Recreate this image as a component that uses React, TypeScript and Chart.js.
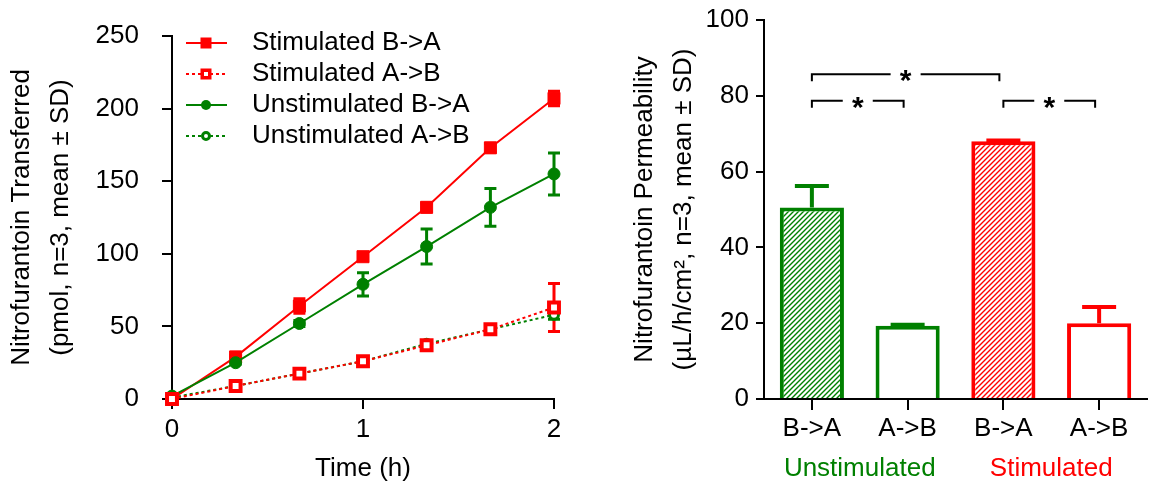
import React, { useEffect, useRef } from 'react';
import { Chart, registerables } from 'chart.js';

Chart.register(...registerables);

const FONT = '"Liberation Sans", Arial, Helvetica, sans-serif';
const RED = '#ff0000';
const GREEN = '#008000';

// ---------- Left chart data ----------
const timeHours = [0, 0.333, 0.667, 1, 1.333, 1.667, 2];
const stimBA = [0, 29, 64, 98, 132, 173, 207];
const stimBA_sd = [1, 1, 5, 1, 3, 3, 5];
const stimAB = [0, 9, 17.5, 26, 37, 48, 63];
const stimAB_sd = [1, 1, 1, 1, 1, 2, 16.5];
const unstimBA = [2, 25, 52, 79, 105, 132, 155];
const unstimBA_sd = [1, 1, 2, 8, 12, 13, 14.5];
const unstimAB = [1, 9, 17.5, 26, 38, 48, 58];
const unstimAB_sd = [1, 1, 1, 1, 1, 2, 3];
const seriesNames = ['Stimulated B->A', 'Stimulated A->B', 'Unstimulated B->A', 'Unstimulated A->B'];
const lineYTicks = [0, 50, 100, 150, 200, 250];
const lineXTicks = [0, 1, 2];

// ---------- Right chart data ----------
const barCategories = ['B->A', 'A->B', 'B->A', 'A->B'];
const barGroups = ['Unstimulated', 'Stimulated'];
const permeability = [50.5, 19.3, 68.0, 20.0];
const permeabilitySD = [5.7, 0.3, 0.2, 4.3];
const barYTicks = [0, 20, 40, 60, 80, 100];
// [from category, to category, bracket level]
const comparisons = [
  [0, 1, 78.7],
  [0, 2, 85.7],
  [2, 3, 78.7],
];

function makeHatch(color: string) {
  const c = document.createElement('canvas');
  const s = 5;
  c.width = s;
  c.height = s;
  const g = c.getContext('2d')!;
  g.fillStyle = '#ffffff';
  g.fillRect(0, 0, s, s);
  g.strokeStyle = color;
  g.lineWidth = 1.4;
  g.beginPath();
  g.moveTo(0, s);
  g.lineTo(s, 0);
  g.moveTo(-1, 1);
  g.lineTo(1, -1);
  g.moveTo(s - 1, s + 1);
  g.lineTo(s + 1, s - 1);
  g.stroke();
  return g.createPattern(c, 'repeat');
}

const lineErrorBars = {
  id: 'lineErrorBars',
  beforeDatasetsDraw(chart: any) {
    const { ctx } = chart;
    const ys = chart.scales.y;
    chart.data.datasets.forEach((ds: any, di: number) => {
      const meta = chart.getDatasetMeta(di);
      ctx.save();
      ctx.strokeStyle = ds.borderColor;
      ctx.lineWidth = 3;
      ctx.setLineDash([]);
      meta.data.forEach((pt: any, i: number) => {
        const v = ds.data[i].y;
        const sd = ds.sd[i];
        const top = ys.getPixelForValue(v + sd);
        const bot = ys.getPixelForValue(Math.max(0, v - sd));
        ctx.beginPath();
        ctx.moveTo(pt.x, top);
        ctx.lineTo(pt.x, bot);
        ctx.moveTo(pt.x - 6, top);
        ctx.lineTo(pt.x + 6, top);
        ctx.moveTo(pt.x - 6, bot);
        ctx.lineTo(pt.x + 6, bot);
        ctx.stroke();
      });
      ctx.restore();
    });
  },
};

const lineLegend = {
  id: 'lineLegend',
  afterDraw(chart: any) {
    const { ctx, chartArea } = chart;
    const x0 = chartArea.left + 14;
    const x1 = chartArea.left + 55;
    const mx = chartArea.left + 34;
    const tx = chartArea.left + 80;
    const styles = [
      { color: RED, dashed: false, shape: 'rect', filled: true },
      { color: RED, dashed: true, shape: 'rect', filled: false },
      { color: GREEN, dashed: false, shape: 'circle', filled: true },
      { color: GREEN, dashed: true, shape: 'circle', filled: false },
    ];
    ctx.save();
    seriesNames.forEach((name, i) => {
      const st = styles[i];
      const y = chartArea.top + 7 + i * 31;
      ctx.strokeStyle = st.color;
      ctx.lineWidth = 2;
      ctx.setLineDash(st.dashed ? [3, 3] : []);
      ctx.beginPath();
      ctx.moveTo(x0, y);
      ctx.lineTo(x1, y);
      ctx.stroke();
      ctx.setLineDash([]);
      if (st.shape === 'rect') {
        if (st.filled) {
          ctx.fillStyle = st.color;
          ctx.fillRect(mx - 5.5, y - 5.5, 11, 11);
        } else {
          ctx.fillStyle = '#fff';
          ctx.fillRect(mx - 4, y - 4, 8, 8);
          ctx.lineWidth = 3.5;
          ctx.strokeRect(mx - 3.75, y - 3.75, 7.5, 7.5);
        }
      } else {
        ctx.beginPath();
        if (st.filled) {
          ctx.arc(mx, y, 5, 0, Math.PI * 2);
          ctx.fillStyle = st.color;
          ctx.fill();
        } else {
          ctx.arc(mx, y, 3.5, 0, Math.PI * 2);
          ctx.fillStyle = '#fff';
          ctx.fill();
          ctx.lineWidth = 3;
          ctx.stroke();
        }
      }
      ctx.fillStyle = '#000';
      ctx.font = `26px ${FONT}`;
      ctx.textAlign = 'left';
      ctx.textBaseline = 'middle';
      ctx.fillText(name, tx, y);
    });
    ctx.restore();
  },
};

const barExtras = {
  id: 'barExtras',
  afterDatasetsDraw(chart: any) {
    const { ctx } = chart;
    const ys = chart.scales.y;
    const xs = chart.scales.x;
    const ds = chart.data.datasets[0];
    const meta = chart.getDatasetMeta(0);
    ctx.save();
    meta.data.forEach((bar: any, i: number) => {
      const top = ys.getPixelForValue(ds.data[i] + ds.sd[i]);
      ctx.strokeStyle = ds.borderColor[i];
      ctx.lineWidth = 4;
      ctx.beginPath();
      ctx.moveTo(bar.x, bar.y);
      ctx.lineTo(bar.x, top);
      ctx.moveTo(bar.x - 17, top);
      ctx.lineTo(bar.x + 17, top);
      ctx.stroke();
    });
    // significance brackets
    ctx.strokeStyle = '#000';
    ctx.fillStyle = '#000';
    ctx.lineWidth = 2;
    comparisons.forEach(([a, b, level]) => {
      const x1 = xs.getPixelForValue(a);
      const x2 = xs.getPixelForValue(b) - 4;
      const mid = (x1 + x2) / 2;
      const ly = ys.getPixelForValue(level);
      ctx.beginPath();
      ctx.moveTo(x1, ly + 7);
      ctx.lineTo(x1, ly);
      ctx.lineTo(mid - 15, ly);
      ctx.moveTo(mid + 15, ly);
      ctx.lineTo(x2, ly);
      ctx.lineTo(x2, ly + 7);
      ctx.stroke();
      ctx.font = `bold 30px ${FONT}`;
      ctx.textAlign = 'center';
      ctx.textBaseline = 'alphabetic';
      ctx.fillText('*', mid, ly + 16);
    });
    // group labels
    ctx.font = `26px ${FONT}`;
    ctx.textAlign = 'center';
    ctx.textBaseline = 'middle';
    const groupColors = [GREEN, RED];
    barGroups.forEach((g, gi) => {
      const cx = (xs.getPixelForValue(gi * 2) + xs.getPixelForValue(gi * 2 + 1)) / 2;
      ctx.fillStyle = groupColors[gi];
      ctx.fillText(g, cx, chart.height - 15);
    });
    ctx.restore();
  },
};

export default function App() {
  const leftRef = useRef<HTMLCanvasElement>(null);
  const rightRef = useRef<HTMLCanvasElement>(null);

  useEffect(() => {
    Chart.defaults.font.family = FONT;
    Chart.defaults.color = '#000';

    const mk = (vals: number[]) => timeHours.map((x, i) => ({ x, y: vals[i] }));

    const left = new Chart(leftRef.current!, {
      type: 'line',
      data: {
        datasets: [
          {
            label: seriesNames[1], data: mk(stimAB), sd: stimAB_sd,
            borderColor: RED, backgroundColor: RED, borderWidth: 2, borderDash: [3, 3],
            pointStyle: 'rect', pointRadius: 7, pointBorderWidth: 4,
            pointBackgroundColor: '#fff', pointBorderColor: RED, tension: 0, clip: false,
          } as any,
          {
            label: seriesNames[2], data: mk(unstimBA), sd: unstimBA_sd,
            borderColor: GREEN, backgroundColor: GREEN, borderWidth: 2,
            pointStyle: 'circle', pointRadius: 6, pointBorderWidth: 1,
            pointBackgroundColor: GREEN, pointBorderColor: GREEN, tension: 0, clip: false,
          } as any,
          {
            label: seriesNames[0], data: mk(stimBA), sd: stimBA_sd,
            borderColor: RED, backgroundColor: RED, borderWidth: 2,
            pointStyle: 'rect', pointRadius: 8.5, pointBorderWidth: 1,
            pointBackgroundColor: RED, pointBorderColor: RED, tension: 0, clip: false,
          } as any,
          {
            label: seriesNames[3], data: mk(unstimAB), sd: unstimAB_sd,
            borderColor: GREEN, backgroundColor: GREEN, borderWidth: 2, borderDash: [3, 3],
            pointStyle: 'circle', pointRadius: 4.5, pointBorderWidth: 3,
            pointBackgroundColor: '#fff', pointBorderColor: GREEN, tension: 0, clip: false,
          } as any,
        ],
      },
      options: {
        animation: false,
        responsive: false,
        devicePixelRatio: 1,
        layout: { padding: { left: 0, top: 18, right: 46, bottom: 0 } },
        plugins: { legend: { display: false }, tooltip: { enabled: false } },
        scales: {
          x: {
            type: 'linear', min: 0, max: 2,
            afterBuildTicks: (s: any) => { s.ticks = lineXTicks.map((v) => ({ value: v })); },
            afterFit: (s: any) => { s.height = 85; },
            grid: { drawOnChartArea: false, drawTicks: true, tickLength: 10, color: '#000', lineWidth: 2 },
            border: { display: true, color: '#000', width: 2 },
            ticks: { font: { size: 26 }, padding: 5, color: '#000' },
            title: { display: true, text: 'Time (h)', font: { size: 26 }, padding: { top: 0, bottom: 0 }, color: '#000' },
          },
          y: {
            type: 'linear', min: 0, max: 250,
            afterBuildTicks: (s: any) => { s.ticks = lineYTicks.map((v) => ({ value: v })); },
            afterFit: (s: any) => { s.width = 172; },
            grid: { drawOnChartArea: false, drawTicks: true, tickLength: 10, color: '#000', lineWidth: 2 },
            border: { display: true, color: '#000', width: 2 },
            ticks: { font: { size: 26, lineHeight: 1 }, padding: 23, color: '#000' },
            title: {
              display: true,
              text: ['Nitrofurantoin Transferred', '(pmol, n=3, mean ± SD)'],
              font: { size: 26, lineHeight: 1.52 },
              padding: { top: 2, bottom: 0 },
              color: '#000',
            },
          },
        },
      } as any,
      plugins: [lineErrorBars, lineLegend],
    });

    const greenHatch = makeHatch(GREEN);
    const redHatch = makeHatch(RED);

    const right = new Chart(rightRef.current!, {
      type: 'bar',
      data: {
        labels: barCategories,
        datasets: [
          {
            data: permeability,
            sd: permeabilitySD,
            backgroundColor: [greenHatch, '#ffffff', redHatch, '#ffffff'],
            borderColor: [GREEN, GREEN, RED, RED],
            borderWidth: 4,
            categoryPercentage: 1,
            barPercentage: 0.67,
          } as any,
        ],
      },
      options: {
        animation: false,
        responsive: false,
        devicePixelRatio: 1,
        layout: { padding: { left: 0, top: 15, right: 2, bottom: 0 } },
        plugins: { legend: { display: false }, tooltip: { enabled: false } },
        scales: {
          x: {
            type: 'category',
            afterFit: (s: any) => { s.height = 85; },
            grid: { offset: false, drawOnChartArea: false, drawTicks: true, tickLength: 11, color: '#000', lineWidth: 2 },
            border: { display: true, color: '#000', width: 2 },
            ticks: { font: { size: 26 }, padding: 3, color: '#000' },
          },
          y: {
            type: 'linear', min: 0, max: 100,
            afterBuildTicks: (s: any) => { s.ticks = barYTicks.map((v) => ({ value: v })); },
            afterFit: (s: any) => { s.width = 164; },
            grid: { drawOnChartArea: false, drawTicks: true, tickLength: 8, color: '#000', lineWidth: 2 },
            border: { display: true, color: '#000', width: 2 },
            ticks: { font: { size: 26, lineHeight: 1 }, padding: 7, color: '#000' },
            title: {
              display: true,
              text: ['Nitrofurantoin Permeability', '(µL/h/cm², n=3, mean ± SD)'],
              font: { size: 26, lineHeight: 1.52 },
              padding: { top: 25, bottom: 0 },
              color: '#000',
            },
          },
        },
      } as any,
      plugins: [barExtras],
    });

    return () => {
      left.destroy();
      right.destroy();
    };
  }, []);

  return (
    <div style={{ position: 'absolute', left: 0, top: 0, width: 1149, height: 484, background: '#fff' }}>
      <div style={{ position: 'absolute', left: 0, top: 0, width: 600, height: 484 }}>
        <canvas ref={leftRef} width={600} height={484} style={{ display: 'block', width: 600, height: 484 }} />
      </div>
      <div style={{ position: 'absolute', left: 600, top: 0, width: 549, height: 484 }}>
        <canvas ref={rightRef} width={549} height={484} style={{ display: 'block', width: 549, height: 484 }} />
      </div>
    </div>
  );
}
